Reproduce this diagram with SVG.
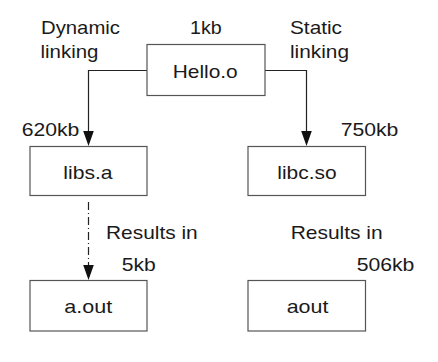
<svg xmlns="http://www.w3.org/2000/svg" width="438" height="362" viewBox="0 0 438 362">
<style>
text{font-family:"Liberation Sans",Arial,sans-serif;font-size:18.5px;fill:#1a1a1a}
.c{text-anchor:middle}
.box{fill:#fff;stroke:#555;stroke-width:1.2}
.ln{fill:none;stroke:#222;stroke-width:1.2}
.ah{fill:#111}
</style>
<rect width="438" height="362" fill="#fff"/>
<g id="connectors">
<path class="ln" d="M147,70.5 H88.5 V131"/>
<path class="ah" d="M83.2,131 H93.8 L88.5,146 Z"/>
<path class="ln" d="M265,70.5 H306.5 V131"/>
<path class="ah" d="M301.2,131 H311.8 L306.5,146 Z"/>
<path class="ln" d="M88.5,202 V265" stroke-dasharray="8 3 1 3"/>
<path class="ah" d="M83.2,265 H93.8 L88.5,280 Z"/>
</g>
<g id="hello">
<rect class="box" x="147" y="44.5" width="118" height="51"/>
<text x="172.7" y="77.5" textLength="65" lengthAdjust="spacingAndGlyphs">Hello.o</text>
</g>
<g id="libs">
<rect class="box" x="30" y="146.5" width="117" height="49"/>
<text x="63.3" y="178.5" textLength="49.3" lengthAdjust="spacingAndGlyphs">libs.a</text>
</g>
<g id="libc">
<rect class="box" x="248" y="146.5" width="117.5" height="49"/>
<text x="277.3" y="178.5" textLength="59.3" lengthAdjust="spacingAndGlyphs">libc.so</text>
</g>
<g id="aout1">
<rect class="box" x="30" y="280.5" width="117" height="50.5"/>
<text x="64.3" y="312.5" textLength="48" lengthAdjust="spacingAndGlyphs">a.out</text>
</g>
<g id="aout2">
<rect class="box" x="248" y="280.5" width="117.5" height="50.5"/>
<text x="286.7" y="312.5" textLength="41.7" lengthAdjust="spacingAndGlyphs">aout</text>
</g>
<g id="labels">
<text x="41" y="34" textLength="79" lengthAdjust="spacingAndGlyphs">Dynamic</text>
<text x="40.5" y="57.5" textLength="58" lengthAdjust="spacingAndGlyphs">linking</text>
<text x="190" y="34" textLength="31.7" lengthAdjust="spacingAndGlyphs">1kb</text>
<text x="290" y="34" textLength="52" lengthAdjust="spacingAndGlyphs">Static</text>
<text x="290" y="57.5" textLength="59" lengthAdjust="spacingAndGlyphs">linking</text>
<text x="21.7" y="136" textLength="57.7" lengthAdjust="spacingAndGlyphs">620kb</text>
<text x="340.7" y="136" textLength="57.7" lengthAdjust="spacingAndGlyphs">750kb</text>
<text x="106" y="239" textLength="91.7" lengthAdjust="spacingAndGlyphs">Results in</text>
<text x="121.7" y="271" textLength="34" lengthAdjust="spacingAndGlyphs">5kb</text>
<text x="290.7" y="239" textLength="92" lengthAdjust="spacingAndGlyphs">Results in</text>
<text x="356.7" y="271" textLength="57.7" lengthAdjust="spacingAndGlyphs">506kb</text>
</g>
</svg>
